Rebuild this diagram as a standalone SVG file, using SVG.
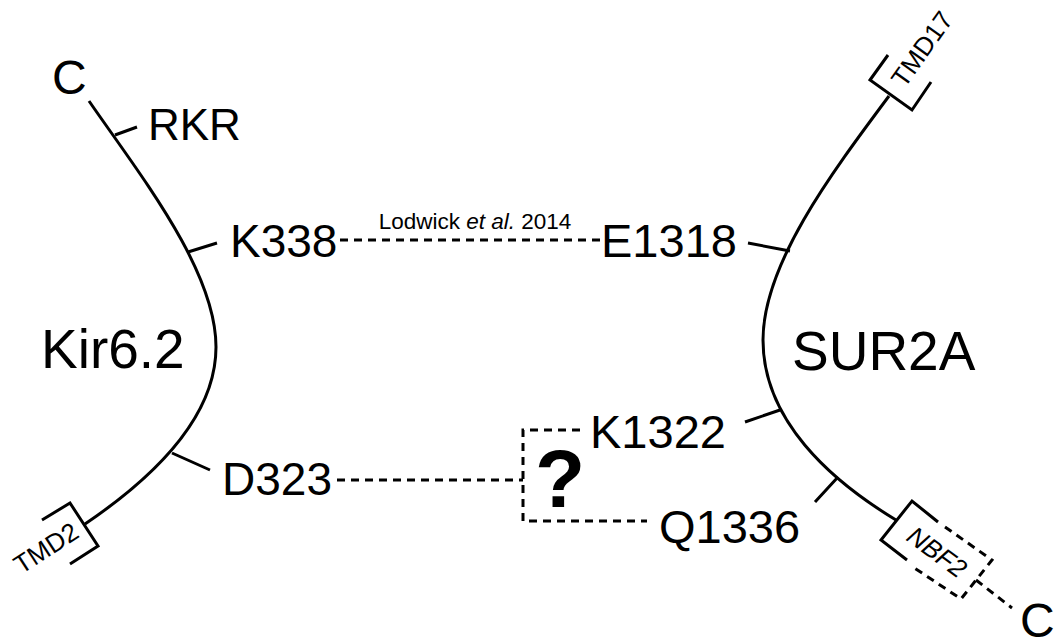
<svg xmlns="http://www.w3.org/2000/svg" width="1056" height="641" viewBox="0 0 1056 641">
<style>
text{font-family:"Liberation Sans",Arial,sans-serif;fill:#000}
.solid{fill:none;stroke:#000;stroke-width:3;stroke-linejoin:miter}
.dash{fill:none;stroke:#000;stroke-width:3;stroke-dasharray:8,6}
.lbl{font-size:46px}
.big{font-size:55px}
.sm{font-size:26px}
</style>
<rect width="1056" height="641" fill="#fff"/>
<g id="kir62">
<path class="solid" d="M89,101 C140,175 216,270 216,347 C216,420 150,480 85,524"/>
<path class="solid" d="M115,135 L137,127 M188,252 L217,243 M172,453 L210,470"/>
<text x="52" y="94" style="font-size:48px">C</text>
<text x="148" y="140" style="font-size:44px">RKR</text>
<text class="lbl" x="230" y="257">K338</text>
<text class="lbl" x="222" y="495">D323</text>
<text class="big" x="41" y="368">Kir6.2</text>
</g>
<g id="tmd2">
<path class="solid" d="M42,520 L70,503 L98,546 L70,564"/>
<text class="sm" x="46" y="557" text-anchor="middle" transform="rotate(-33 46 548)">TMD2</text>
</g>
<g id="sur2a">
<path class="solid" d="M889,96 C830,175 763,265 763,340 C763,420 830,480 896,520"/>
<path class="solid" d="M790,251 L748,243 M780,410 L745,422 M838,477 L815,502"/>
<text class="lbl" x="601" y="257" style="font-size:47px">E1318</text>
<text class="lbl" x="590" y="448" style="font-size:47px">K1322</text>
<text class="lbl" x="659" y="543" style="font-size:47px">Q1336</text>
<text class="big" x="792" y="370">SUR2A</text>
</g>
<g id="tmd17">
<path class="solid" d="M888,55 L870,80 L912,110 L931,82"/>
<text class="sm" x="922" y="58" text-anchor="middle" transform="rotate(-54.5 922 49)">TMD17</text>
</g>
<g id="nbf2">
<path class="solid" d="M938,522 L912,501 L881,540 L907,560"/>
<path class="dash" d="M945,527 L992,560 L961,599 L913,567"/>
<text class="sm" x="937" y="561" text-anchor="middle" font-style="italic" transform="rotate(36.4 937 552)">NBF2</text>
<text x="1020" y="637" style="font-size:48px">C</text>
</g>
<g id="question">
<text x="560" y="507" text-anchor="middle" style="font-size:82px;font-weight:bold">?</text>
</g>
<g id="connectors">
<path class="dash" d="M340,240 H602"/>
<path class="dash" d="M337,480 H523"/>
<path class="dash" d="M580,430 H523 V521 H647"/>
<path class="dash" d="M976,580 L1012,608"/>
<text x="475" y="229" text-anchor="middle" style="font-size:22.5px">Lodwick <tspan font-style="italic">et al.</tspan> 2014</text>
</g>
</svg>
